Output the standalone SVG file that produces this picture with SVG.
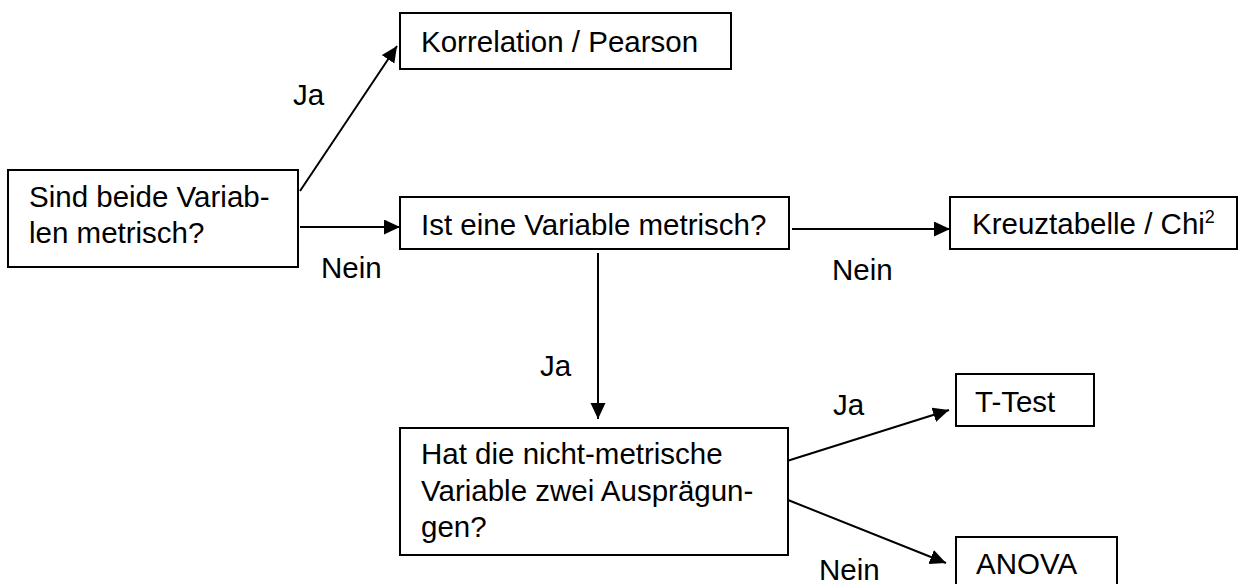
<svg xmlns="http://www.w3.org/2000/svg" width="1240" height="584" viewBox="0 0 1240 584">
<defs>
<marker id="arr" markerUnits="userSpaceOnUse" markerWidth="18" markerHeight="16" refX="16" refY="7.5" orient="auto">
<path d="M0,0 L16,7.5 L0,15 Z" fill="#000"/>
</marker>
<style>
.box{fill:#fff;stroke:#000;stroke-width:2}
.t{font-family:"Liberation Sans",Arial,sans-serif;font-size:29.5px;fill:#000}
.c{stroke:#000;stroke-width:2;fill:none;marker-end:url(#arr)}
</style>
</defs>
<rect width="1240" height="584" fill="#fff"/>
<g id="connectors">
<line class="c" x1="300" y1="191" x2="397" y2="46"/>
<line class="c" x1="300" y1="227" x2="400" y2="227"/>
<line class="c" x1="792" y1="229" x2="950" y2="229"/>
<line class="c" x1="598" y1="253" x2="598" y2="419"/>
<line class="c" x1="787" y1="461" x2="949" y2="410"/>
<line class="c" x1="788" y1="500" x2="946" y2="563"/>
<text class="t" x="293" y="105">Ja</text>
<text class="t" x="321" y="278">Nein</text>
<text class="t" x="832" y="280">Nein</text>
<text class="t" x="540" y="376">Ja</text>
<text class="t" x="833" y="415">Ja</text>
<text class="t" x="819" y="580">Nein</text>
</g>
<g id="n1">
<rect class="box" x="8" y="170" width="290" height="97"/>
<text class="t" x="29" y="207">Sind beide Variab-</text>
<text class="t" x="29" y="243">len metrisch?</text>
</g>
<g id="n2">
<rect class="box" x="400" y="13" width="331" height="56"/>
<text class="t" x="421" y="52">Korrelation / Pearson</text>
</g>
<g id="n3">
<rect class="box" x="400" y="197" width="389" height="52"/>
<text class="t" x="421" y="235">Ist eine Variable metrisch?</text>
</g>
<g id="n4">
<rect class="box" x="950" y="197" width="287" height="52"/>
<text class="t" x="972" y="234">Kreuztabelle / Chi<tspan font-size="18" dy="-11">2</tspan></text>
</g>
<g id="n5">
<rect class="box" x="400" y="428" width="388" height="127"/>
<text class="t" x="421" y="464">Hat die nicht-metrische</text>
<text class="t" x="421" y="501">Variable zwei Ausprägun-</text>
<text class="t" x="421" y="537">gen?</text>
</g>
<g id="n6">
<rect class="box" x="956" y="374" width="138" height="52"/>
<text class="t" x="975" y="412">T-Test</text>
</g>
<g id="n7">
<rect class="box" x="956" y="537" width="161" height="60"/>
<text class="t" x="976" y="574">ANOVA</text>
</g>
</svg>
